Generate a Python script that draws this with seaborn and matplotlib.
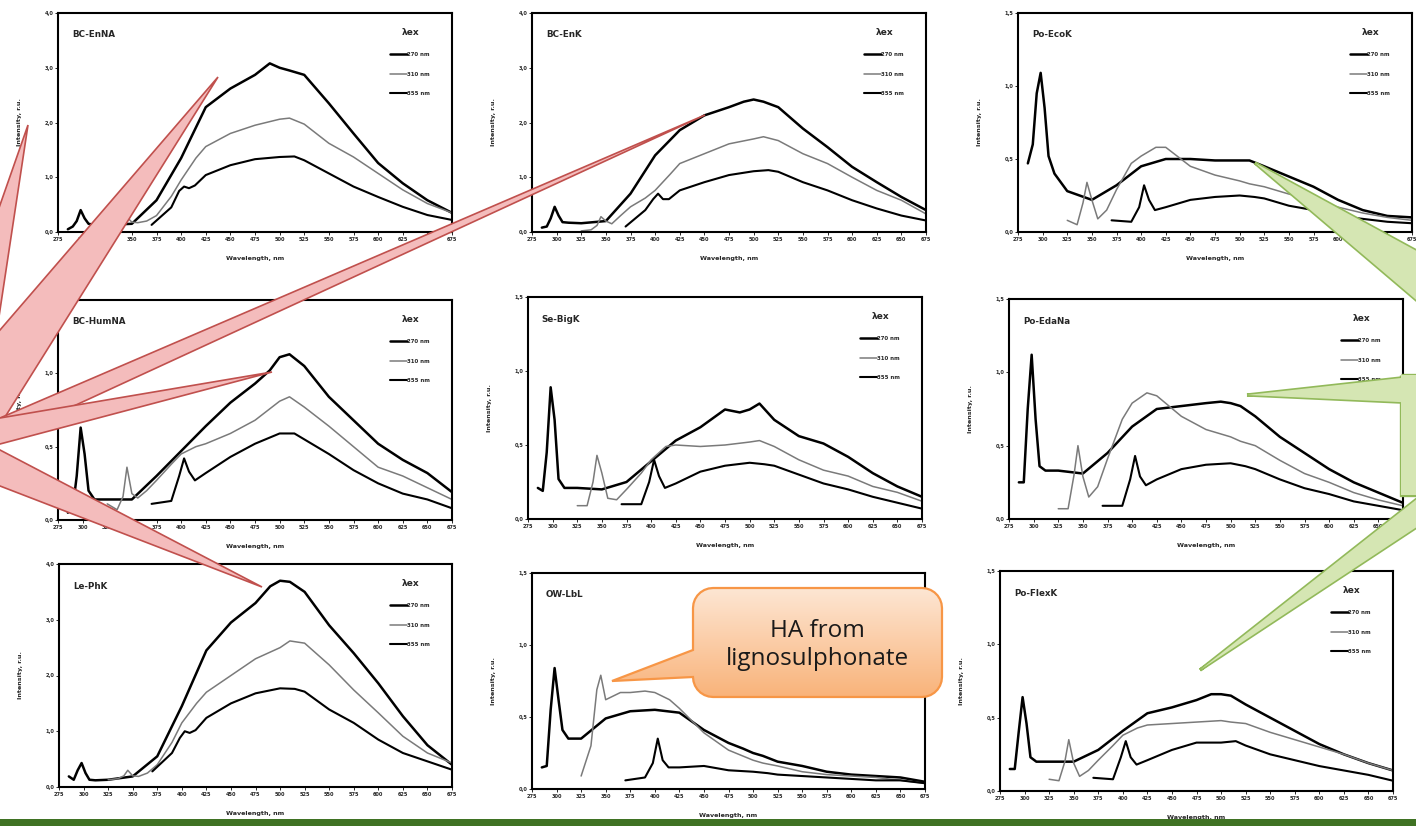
import numpy as np
import pandas as pd
import matplotlib
matplotlib.use('Agg')
import matplotlib.pyplot as plt
import seaborn as sns
from matplotlib.patches import Polygon, Rectangle
from matplotlib.ticker import FuncFormatter
from matplotlib.colors import LinearSegmentedColormap

W, H = 1416, 826

# emission wavelength grids (nm), one per excitation line
WL_270 = [285, 290, 294, 298, 302, 306, 312, 325, 350, 375, 400, 425, 450, 475, 490, 500, 510, 525, 550, 575, 600, 625, 650, 675]
WL_310 = [325, 335, 341, 345, 350, 356, 365, 375, 390, 400, 415, 425, 450, 475, 500, 510, 525, 550, 575, 600, 625, 650, 675]
WL_355 = [370, 390, 398, 403, 408, 414, 425, 450, 475, 500, 515, 525, 550, 575, 600, 625, 650, 675]

EXCITATION = ['270 nm', '310 nm', '355 nm']

# intensities, r.u.
ENNA_270 = [0.05, 0.10, 0.20, 0.40, 0.25, 0.15, 0.13, 0.13, 0.15, 0.58, 1.35, 2.28, 2.62, 2.87, 3.08, 3.00, 2.95, 2.87, 2.35, 1.80, 1.26, 0.89, 0.58, 0.35]
ENNA_310 = [0.05, 0.08, 0.15, 0.27, 0.18, 0.17, 0.20, 0.30, 0.65, 0.95, 1.35, 1.56, 1.80, 1.95, 2.06, 2.08, 1.97, 1.62, 1.37, 1.07, 0.77, 0.52, 0.35]
ENNA_355 = [0.13, 0.45, 0.75, 0.83, 0.80, 0.85, 1.04, 1.22, 1.33, 1.37, 1.38, 1.31, 1.07, 0.83, 0.64, 0.46, 0.31, 0.22]

ENK_270 = [0.08, 0.10, 0.25, 0.46, 0.30, 0.18, 0.17, 0.16, 0.20, 0.70, 1.40, 1.86, 2.13, 2.28, 2.38, 2.42, 2.38, 2.28, 1.89, 1.55, 1.19, 0.91, 0.64, 0.40]
ENK_310 = [0.02, 0.04, 0.12, 0.28, 0.20, 0.15, 0.30, 0.46, 0.62, 0.76, 1.05, 1.25, 1.43, 1.61, 1.70, 1.74, 1.67, 1.43, 1.25, 1.00, 0.76, 0.58, 0.33]
ENK_355 = [0.10, 0.40, 0.60, 0.70, 0.60, 0.60, 0.76, 0.91, 1.04, 1.11, 1.13, 1.10, 0.91, 0.76, 0.58, 0.43, 0.30, 0.21]

ECOK_270 = [0.47, 0.60, 0.95, 1.09, 0.85, 0.52, 0.40, 0.28, 0.22, 0.32, 0.45, 0.50, 0.50, 0.49, 0.49, 0.49, 0.49, 0.45, 0.38, 0.31, 0.22, 0.15, 0.11, 0.10]
ECOK_310 = [0.08, 0.05, 0.20, 0.34, 0.22, 0.09, 0.15, 0.29, 0.47, 0.52, 0.58, 0.58, 0.45, 0.39, 0.35, 0.33, 0.31, 0.26, 0.22, 0.17, 0.13, 0.10, 0.08]
ECOK_355 = [0.08, 0.07, 0.17, 0.32, 0.22, 0.15, 0.17, 0.22, 0.24, 0.25, 0.24, 0.23, 0.18, 0.15, 0.11, 0.09, 0.07, 0.06]

HUMNA_270 = [0.05, 0.08, 0.30, 0.63, 0.45, 0.20, 0.14, 0.14, 0.14, 0.30, 0.47, 0.64, 0.80, 0.93, 1.02, 1.11, 1.13, 1.05, 0.84, 0.68, 0.52, 0.41, 0.32, 0.19]
HUMNA_310 = [0.11, 0.07, 0.16, 0.36, 0.18, 0.15, 0.20, 0.27, 0.38, 0.45, 0.50, 0.52, 0.59, 0.68, 0.81, 0.84, 0.77, 0.64, 0.50, 0.36, 0.30, 0.22, 0.14]
HUMNA_355 = [0.11, 0.13, 0.30, 0.42, 0.33, 0.27, 0.32, 0.43, 0.52, 0.59, 0.59, 0.55, 0.45, 0.34, 0.25, 0.18, 0.14, 0.08]

BIGK_270 = [0.21, 0.19, 0.45, 0.89, 0.67, 0.27, 0.21, 0.21, 0.20, 0.25, 0.39, 0.53, 0.62, 0.74, 0.72, 0.74, 0.78, 0.67, 0.56, 0.51, 0.42, 0.31, 0.22, 0.15]
BIGK_310 = [0.09, 0.09, 0.25, 0.43, 0.31, 0.14, 0.13, 0.20, 0.31, 0.40, 0.49, 0.50, 0.49, 0.50, 0.52, 0.53, 0.49, 0.40, 0.33, 0.29, 0.22, 0.18, 0.12]
BIGK_355 = [0.10, 0.10, 0.25, 0.40, 0.29, 0.21, 0.24, 0.32, 0.36, 0.38, 0.37, 0.36, 0.30, 0.24, 0.20, 0.15, 0.11, 0.07]

EDANA_270 = [0.25, 0.25, 0.75, 1.12, 0.68, 0.36, 0.33, 0.33, 0.31, 0.45, 0.63, 0.75, 0.77, 0.79, 0.80, 0.79, 0.77, 0.70, 0.56, 0.45, 0.34, 0.25, 0.18, 0.11]
EDANA_310 = [0.07, 0.07, 0.30, 0.50, 0.29, 0.15, 0.22, 0.41, 0.68, 0.79, 0.86, 0.84, 0.70, 0.61, 0.56, 0.53, 0.50, 0.40, 0.31, 0.25, 0.18, 0.13, 0.09]
EDANA_355 = [0.09, 0.09, 0.27, 0.43, 0.29, 0.23, 0.27, 0.34, 0.37, 0.38, 0.36, 0.34, 0.27, 0.21, 0.17, 0.12, 0.09, 0.06]

PHK_270 = [0.19, 0.13, 0.30, 0.43, 0.25, 0.13, 0.12, 0.13, 0.19, 0.55, 1.45, 2.45, 2.95, 3.30, 3.60, 3.70, 3.68, 3.50, 2.90, 2.40, 1.86, 1.27, 0.75, 0.40]
PHK_310 = [0.13, 0.15, 0.20, 0.30, 0.20, 0.19, 0.25, 0.40, 0.80, 1.15, 1.50, 1.70, 2.00, 2.30, 2.50, 2.62, 2.58, 2.19, 1.74, 1.33, 0.91, 0.61, 0.43]
PHK_355 = [0.28, 0.61, 0.88, 1.00, 0.97, 1.02, 1.24, 1.50, 1.68, 1.77, 1.76, 1.71, 1.39, 1.15, 0.85, 0.61, 0.46, 0.31]

LBL_270 = [0.15, 0.16, 0.55, 0.84, 0.62, 0.41, 0.35, 0.35, 0.49, 0.54, 0.55, 0.53, 0.41, 0.32, 0.28, 0.25, 0.23, 0.19, 0.16, 0.12, 0.10, 0.09, 0.08, 0.05]
LBL_310 = [0.09, 0.30, 0.69, 0.79, 0.62, 0.64, 0.67, 0.67, 0.68, 0.67, 0.62, 0.56, 0.39, 0.27, 0.20, 0.18, 0.16, 0.12, 0.10, 0.09, 0.08, 0.06, 0.04]
LBL_355 = [0.06, 0.08, 0.18, 0.35, 0.20, 0.15, 0.15, 0.16, 0.13, 0.12, 0.11, 0.10, 0.09, 0.08, 0.07, 0.06, 0.06, 0.04]

FLEXK_270 = [0.15, 0.15, 0.40, 0.64, 0.46, 0.23, 0.20, 0.20, 0.20, 0.28, 0.41, 0.53, 0.57, 0.62, 0.66, 0.66, 0.65, 0.59, 0.50, 0.41, 0.32, 0.25, 0.19, 0.14]
FLEXK_310 = [0.08, 0.07, 0.20, 0.35, 0.19, 0.10, 0.14, 0.21, 0.31, 0.38, 0.43, 0.45, 0.46, 0.47, 0.48, 0.47, 0.46, 0.40, 0.35, 0.30, 0.25, 0.19, 0.14]
FLEXK_355 = [0.09, 0.08, 0.23, 0.34, 0.23, 0.18, 0.21, 0.28, 0.33, 0.33, 0.34, 0.31, 0.25, 0.21, 0.17, 0.14, 0.11, 0.07]

SAMPLES = ['BC-EnNA', 'BC-EnK', 'Po-EcoK', 'BC-HumNA', 'Se-BigK', 'Po-EdaNa', 'Le-PhK', 'OW-LbL', 'Po-FlexK']
Y_MAX = [4.0, 4.0, 1.5, 1.5, 1.5, 1.5, 4.0, 1.5, 1.5]
SPECTRA = [
    (ENNA_270, ENNA_310, ENNA_355), (ENK_270, ENK_310, ENK_355), (ECOK_270, ECOK_310, ECOK_355),
    (HUMNA_270, HUMNA_310, HUMNA_355), (BIGK_270, BIGK_310, BIGK_355), (EDANA_270, EDANA_310, EDANA_355),
    (PHK_270, PHK_310, PHK_355), (LBL_270, LBL_310, LBL_355), (FLEXK_270, FLEXK_310, FLEXK_355),
]
# the OW-LbL legend sits under the orange callout on the slide
SHOW_LEGEND = [True, True, True, True, True, True, True, False, True]

# panel boxes in slide pixels: left, top, right, bottom
BOXES = [
    (58, 13, 452, 232), (532, 13, 926, 232), (1018, 13, 1412, 232),
    (58, 300, 452, 520), (528, 297, 922, 519), (1009, 299, 1403, 519),
    (59, 564, 452, 787), (532, 573, 925, 789), (1000, 571, 1393, 791),
]

LINE_COLORS = ['black', '#7a7a7a', 'black']
LINE_WIDTHS = [1.8, 1.1, 1.5]

sns.set_style('ticks')
plt.rcParams['font.family'] = ['DejaVu Sans']
plt.rcParams['font.weight'] = 'bold'

fig = plt.figure(figsize=(W / 100, H / 100), dpi=100)
fig.patch.set_facecolor('white')


def px_rect(l, t, r, b):
    return [l / W, 1 - b / H, (r - l) / W, (b - t) / H]


comma = FuncFormatter(lambda v, p: f'{v:.1f}'.replace('.', ','))

for name, ymax, spectra, box, show_leg in zip(SAMPLES, Y_MAX, SPECTRA, BOXES, SHOW_LEGEND):
    ax = fig.add_axes(px_rect(*box))
    for wl, vals, lab, col, lw in zip([WL_270, WL_310, WL_355], spectra, EXCITATION, LINE_COLORS, LINE_WIDTHS):
        df = pd.DataFrame({'Wavelength': wl, 'Intensity': vals})
        sns.lineplot(data=df, x='Wavelength', y='Intensity', ax=ax, color=col,
                     linewidth=lw, label=lab, sort=False)
    ax.set_xlim(275, 675)
    ax.set_ylim(0, ymax)
    ax.set_xticks(np.arange(275, 676, 25))
    ax.set_yticks(np.arange(0, ymax + 0.01, 1.0 if ymax > 2 else 0.5))
    ax.yaxis.set_major_formatter(comma)
    ax.tick_params(direction='out', length=2, width=0.7, labelsize=3.6, pad=1.5)
    for s in ax.spines.values():
        s.set_linewidth(1.5)
        s.set_color('black')
    ax.set_xlabel('Wavelength, nm', fontsize=4.6, fontweight='bold', labelpad=10)
    ax.set_ylabel('Intensity, r.u.', fontsize=4.6, fontweight='bold', labelpad=16)
    ax.text(0.035, 0.9, name, transform=ax.transAxes, fontsize=6.3, fontweight='bold', va='center')
    if show_leg:
        leg = ax.legend(title='λex', loc='upper right', bbox_to_anchor=(0.955, 0.95), frameon=False,
                        fontsize=3.9, title_fontsize=6.5, handlelength=3.0, handletextpad=0.1,
                        labelspacing=2.7, borderpad=0.3)
        leg.get_title().set_fontweight('bold')
    else:
        ax.get_legend().remove()

# overlay in slide pixels for the callouts
ov = fig.add_axes([0, 0, 1, 1], zorder=20)
ov.patch.set_alpha(0)
ov.axis('off')

PINK, RED = '#f4bcbc', '#c0504d'


def left_tail(tip, y1, y2, ext=60):
    tx, ty = tip
    k = (tx + ext) / tx
    return [tip, (-ext, ty + (y1 - ty) * k), (-ext, ty + (y2 - ty) * k)]


for tip, y1, y2 in [((28, 125), 205, 310), ((218, 77), 330, 425), ((705, 115), 418, 440),
                    ((272, 372), 418, 444), ((262, 587), 450, 486)]:
    ov.add_patch(Polygon(left_tail(tip, y1, y2), closed=True, facecolor=PINK,
                         edgecolor=RED, linewidth=1.2))

# green callout: body off the right edge with three tails
GREEN_FILL, GREEN_EDGE = '#d5e6b3', '#92b95a'
green_parts = [
    [(1401, 375), (1700, 375), (1700, 495), (1401, 495)],
    [(1255, 163), (1507, 377), (1648, 377)],
    [(1247, 395), (1410, 377), (1420, 403)],
    [(1200, 670), (1441, 480), (1488, 480)],
]
for pts in green_parts:
    ov.add_patch(Polygon(pts, closed=True, fill=False, edgecolor=GREEN_EDGE, linewidth=2.4))
for pts in green_parts:
    ov.add_patch(Polygon(pts, closed=True, facecolor=GREEN_FILL, edgecolor='none'))

# orange rounded callout with tail
x0, y0, x1, y1, r = 693, 588, 942, 697, 20
tip = (612, 681)


def arc(cx, cy, a0, a1, n=8):
    t = np.radians(np.linspace(a0, a1, n))
    return list(zip(cx + r * np.cos(t), cy + r * np.sin(t)))


outline = [(x0, 650), (x0, y0 + r)]
outline += arc(x0 + r, y0 + r, 180, 270)
outline += [(x1 - r, y0)] + arc(x1 - r, y0 + r, 270, 360)
outline += [(x1, y1 - r)] + arc(x1 - r, y1 - r, 0, 90)
outline += [(x0 + r, y1)] + arc(x0 + r, y1 - r, 90, 180)
outline += [tip]

grad_cmap = LinearSegmentedColormap.from_list('callout', ['#fde6d3', '#f9b37a'])
im = ov.imshow(np.linspace(0, 1, 100).reshape(-1, 1), cmap=grad_cmap, aspect='auto',
               extent=[600, 945, y1, y0], origin='upper', zorder=3)
clip = Polygon(outline, closed=True, transform=ov.transData)
im.set_clip_path(clip)
ov.add_patch(Polygon(outline, closed=True, fill=False, edgecolor='#f79646', linewidth=1.6, zorder=4))
ov.text((x0 + x1) / 2, 645, 'HA from\nlignosulphonate', ha='center', va='center',
        fontsize=17.5, family='Open Sans', fontweight='normal', color='#1a1a1a',
        linespacing=1.2, zorder=5)

# slide footer band
ov.add_patch(Rectangle((0, 819), W, 8, facecolor='#3f7223', edgecolor='none', zorder=6))

ov.set_xlim(0, W)
ov.set_ylim(H, 0)

fig.savefig('out.png', dpi=100)
